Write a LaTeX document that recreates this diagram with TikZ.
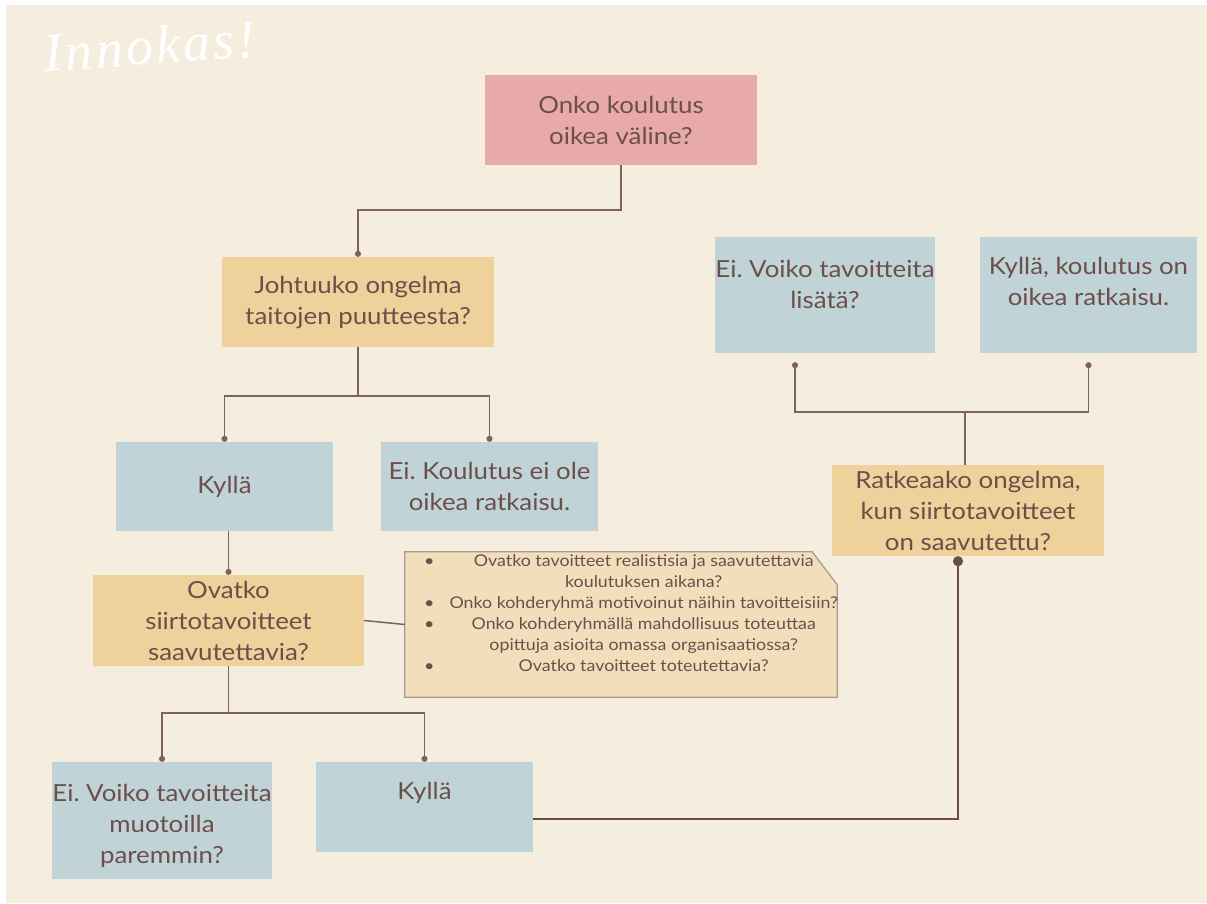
\documentclass[tikz,border=0pt]{standalone}
\usepackage{fontspec}
\setmainfont{Lato}[FakeStretch=1.1]
\newfontfamily\handfont{Liberation Serif}[LetterSpace=6]
\usetikzlibrary{arrows.meta,calc}
\definecolor{bgc}{RGB}{245,238,223}
\definecolor{pinkc}{RGB}{232,170,169}
\definecolor{yelc}{RGB}{239,210,155}
\definecolor{bluec}{RGB}{192,212,216}
\definecolor{notec}{RGB}{241,223,188}
\definecolor{notebd}{RGB}{172,152,142}
\definecolor{txtc}{RGB}{110,78,74}
\definecolor{linec}{RGB}{128,98,93}
\definecolor{darkl}{RGB}{107,74,71}
\tikzset{
  box/.style={inner sep=0pt, align=center, text=txtc,
    font=\fontsize{23.5}{31}\selectfont},
  pinkbox/.style={box, fill=pinkc},
  yelbox/.style={box, fill=yelc},
  bluebox/.style={box, fill=bluec},
  lbl/.style={align=center, text=txtc, inner sep=0pt,
    font=\fontsize{23.5}{31}\selectfont},
  conn/.style={draw=linec, line width=1.5pt, -{Circle[length=6pt]}},
  plain/.style={draw=linec, line width=1.5pt},
}
\begin{document}
\frenchspacing
\begin{tikzpicture}[x=1pt,y=-1pt]
\useasboundingbox (0,0) rectangle (1207,903);
\fill[white] (0,0) rectangle (1207,903);
\fill[bgc] (6,5) rectangle (1207,903);

% title
\node[text=white, font=\handfont\itshape\fontsize{54}{60}\selectfont, rotate=4, inner sep=0pt] (title) at (150,46) {Innokas!};

% boxes
\node[pinkbox, minimum width=272pt, minimum height=90pt] (pink) at (621,120) {Onko koulutus\\oikea väline?};
\node[yelbox, minimum width=272pt, minimum height=90pt] (joh) at (358,302) {Johtuuko ongelma\\taitojen puutteesta?};
\node[bluebox, minimum width=217pt, minimum height=89pt] (kyl1) at (224.5,486.5) {Kyllä};
\node[bluebox, minimum width=217pt, minimum height=89pt] (ei1) at (489.5,486.5) {Ei. Koulutus ei ole\\oikea ratkaisu.};
\node[yelbox, minimum width=271pt, minimum height=91pt] (ova) at (228.5,620.5) {Ovatko\\siirtotavoitteet\\saavutettavia?};
\node[bluebox, minimum width=220pt, minimum height=117pt,
  label={[lbl,yshift=-5pt]center:{Ei. Voiko tavoitteita\\muotoilla\\paremmin?}}] (eivoi) at (162,820.5) {};
\node[bluebox, minimum width=217pt, minimum height=90pt,
  label={[lbl,yshift=14pt]center:Kyllä}] (kyl2) at (424.5,807) {};
\node[yelbox, minimum width=272pt, minimum height=91pt] (rat) at (968,510.5) {Ratkeaako ongelma,\\kun siirtotavoitteet\\on saavutettu?};
\node[bluebox, minimum width=220pt, minimum height=116pt,
  label={[lbl,yshift=11pt]center:{Ei. Voiko tavoitteita\\lisätä?}}] (eilis) at (825,295) {};
\node[bluebox, minimum width=217pt, minimum height=116pt,
  label={[lbl,yshift=14pt]center:{Kyllä, koulutus on\\oikea ratkaisu.}}] (kylok) at (1088.5,295) {};

% note
\node[minimum width=432pt, minimum height=145pt, inner sep=0pt] (note) at (621,624.5) {};
\filldraw[fill=notec, draw=notebd, line width=1.3pt]
  (note.north west) -- ([xshift=-25pt]note.north east) -- ([yshift=-33pt]note.north east)
  -- (note.south east) -- (note.south west) -- cycle;
\node[text=txtc, inner sep=0pt, anchor=west, font=\fontsize{16.2}{21}\selectfont] (notetext) at (424,615)
{\begin{tabular}{@{}l@{\hspace{15pt}}c@{}}
\textbullet & Ovatko tavoitteet realistisia ja saavutettavia\\
 & koulutuksen aikana?\\
\textbullet & Onko kohderyhmä motivoinut näihin tavoitteisiin?\\
\textbullet & Onko kohderyhmällä mahdollisuus toteuttaa\\
 & opittuja asioita omassa organisaatiossa?\\
\textbullet & Ovatko tavoitteet toteutettavia?
\end{tabular}};

% connectors
\draw[conn] (pink.south) -- ++(0,45) -| (joh.north);
\draw[plain] (joh.south) -- ++(0,49) coordinate (j1);
\draw[conn] (j1) -| (kyl1.north);
\draw[conn] (j1) -| (ei1.north);
\draw[conn] (ova.north |- kyl1.south) -- (ova.north);
\draw[plain] (ova.east) -- (note.west);
\draw[plain] (ova.south) -- ++(0,47) coordinate (o1);
\draw[conn] (o1) -| (eivoi.north);
\draw[conn] (o1) -| (kyl2.north);
\draw[draw=darkl, line width=2.2pt, -{Circle[length=10pt]}]
  ([yshift=-12pt]kyl2.east) -| ([xshift=-10pt]rat.south);
\draw[plain] ([xshift=-3pt]rat.north) -- ++(0,-53) coordinate (r1);
\coordinate (eL) at ([xshift=-30pt,yshift=-9pt]eilis.south);
\coordinate (eR) at ([yshift=-9pt]kylok.south);
\draw[conn] (r1) -| (eL);
\draw[conn] (r1) -| (eR);
\end{tikzpicture}
\end{document}
